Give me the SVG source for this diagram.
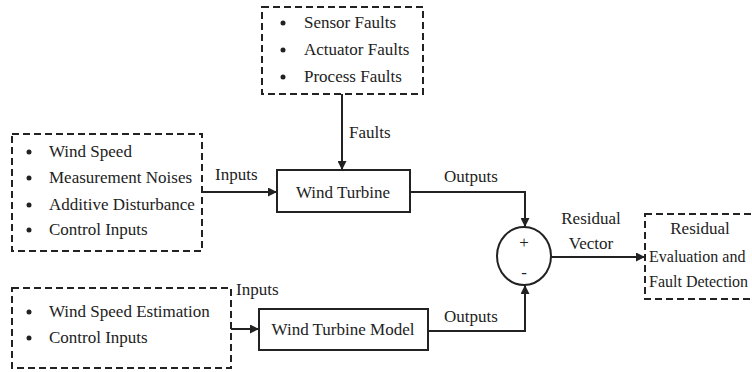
<svg xmlns="http://www.w3.org/2000/svg" width="752" height="372" viewBox="0 0 752 372">
<defs>
<style>
text{font-family:"Liberation Serif","Times New Roman",serif;font-size:17px;fill:#222}
.dash{fill:none;stroke:#222;stroke-width:2;stroke-dasharray:7 4}
.box{fill:#fff;stroke:#222;stroke-width:2}
.ln{fill:none;stroke:#222;stroke-width:2}
.mid{text-anchor:middle}
.sm{font-size:16px}
</style>
<marker id="ah" viewBox="0 0 10 10" refX="10" refY="5" markerWidth="9" markerHeight="9" markerUnits="userSpaceOnUse" orient="auto">
<path d="M0,0 L10,5 L0,10 z" fill="#222"/>
</marker>
</defs>
<rect width="752" height="372" fill="#fff"/>
<g id="faults">
<rect class="dash" x="262" y="7" width="161" height="87"/>
<circle cx="283" cy="23" r="2.5" fill="#222"/><text x="304" y="28">Sensor Faults</text>
<circle cx="283" cy="50" r="2.5" fill="#222"/><text x="304" y="55">Actuator Faults</text>
<circle cx="283" cy="77" r="2.5" fill="#222"/><text x="304" y="82">Process Faults</text>
</g>
<g id="inputs1">
<rect class="dash" x="12" y="134" width="190" height="117"/>
<circle cx="29" cy="152" r="2.5" fill="#222"/><text x="49" y="157">Wind Speed</text>
<circle cx="29" cy="178" r="2.5" fill="#222"/><text x="49" y="183">Measurement Noises</text>
<circle cx="29" cy="205" r="2.5" fill="#222"/><text x="49" y="210">Additive Disturbance</text>
<circle cx="29" cy="230" r="2.5" fill="#222"/><text x="49" y="235">Control Inputs</text>
</g>
<g id="inputs2">
<rect class="dash" x="12" y="288" width="219" height="80"/>
<circle cx="29" cy="312" r="2.5" fill="#222"/><text x="49" y="317">Wind Speed Estimation</text>
<circle cx="29" cy="338" r="2.5" fill="#222"/><text x="49" y="343">Control Inputs</text>
</g>
<g id="turbine">
<rect class="box" x="277" y="170" width="133" height="42"/>
<text class="mid" x="343" y="198">Wind Turbine</text>
</g>
<g id="model">
<rect class="box" x="259" y="309" width="169" height="41"/>
<text class="mid" x="343" y="335">Wind Turbine Model</text>
</g>
<g id="sum">
<ellipse cx="524" cy="256" rx="27" ry="29" fill="#fff" stroke="#222" stroke-width="2"/>
<text class="mid" x="524" y="248">+</text>
<text class="mid" x="524" y="278">-</text>
</g>
<g id="evaluation">
<rect class="dash" x="645" y="214" width="120" height="85"/>
<text class="mid" x="700" y="234">Residual</text>
<text class="sm" x="649" y="262">Evaluation and</text>
<text class="sm" x="649" y="287">Fault Detection</text>
</g>
<g id="connectors">
<line class="ln" x1="342" y1="94" x2="342" y2="170" marker-end="url(#ah)"/>
<text x="349" y="138">Faults</text>
<line class="ln" x1="202" y1="192" x2="277" y2="192" marker-end="url(#ah)"/>
<text x="215" y="180">Inputs</text>
<polyline class="ln" points="410,192 525,192 525,227" marker-end="url(#ah)"/>
<text x="444" y="182">Outputs</text>
<line class="ln" x1="231" y1="329" x2="259" y2="329" marker-end="url(#ah)"/>
<text x="236" y="295">Inputs</text>
<polyline class="ln" points="428,331 525,331 525,285" marker-end="url(#ah)"/>
<text x="444" y="322">Outputs</text>
<line class="ln" x1="551" y1="257" x2="645" y2="257" marker-end="url(#ah)"/>
<text class="mid" x="591" y="224">Residual</text>
<text class="mid" x="591" y="249">Vector</text>
</g>
</svg>
